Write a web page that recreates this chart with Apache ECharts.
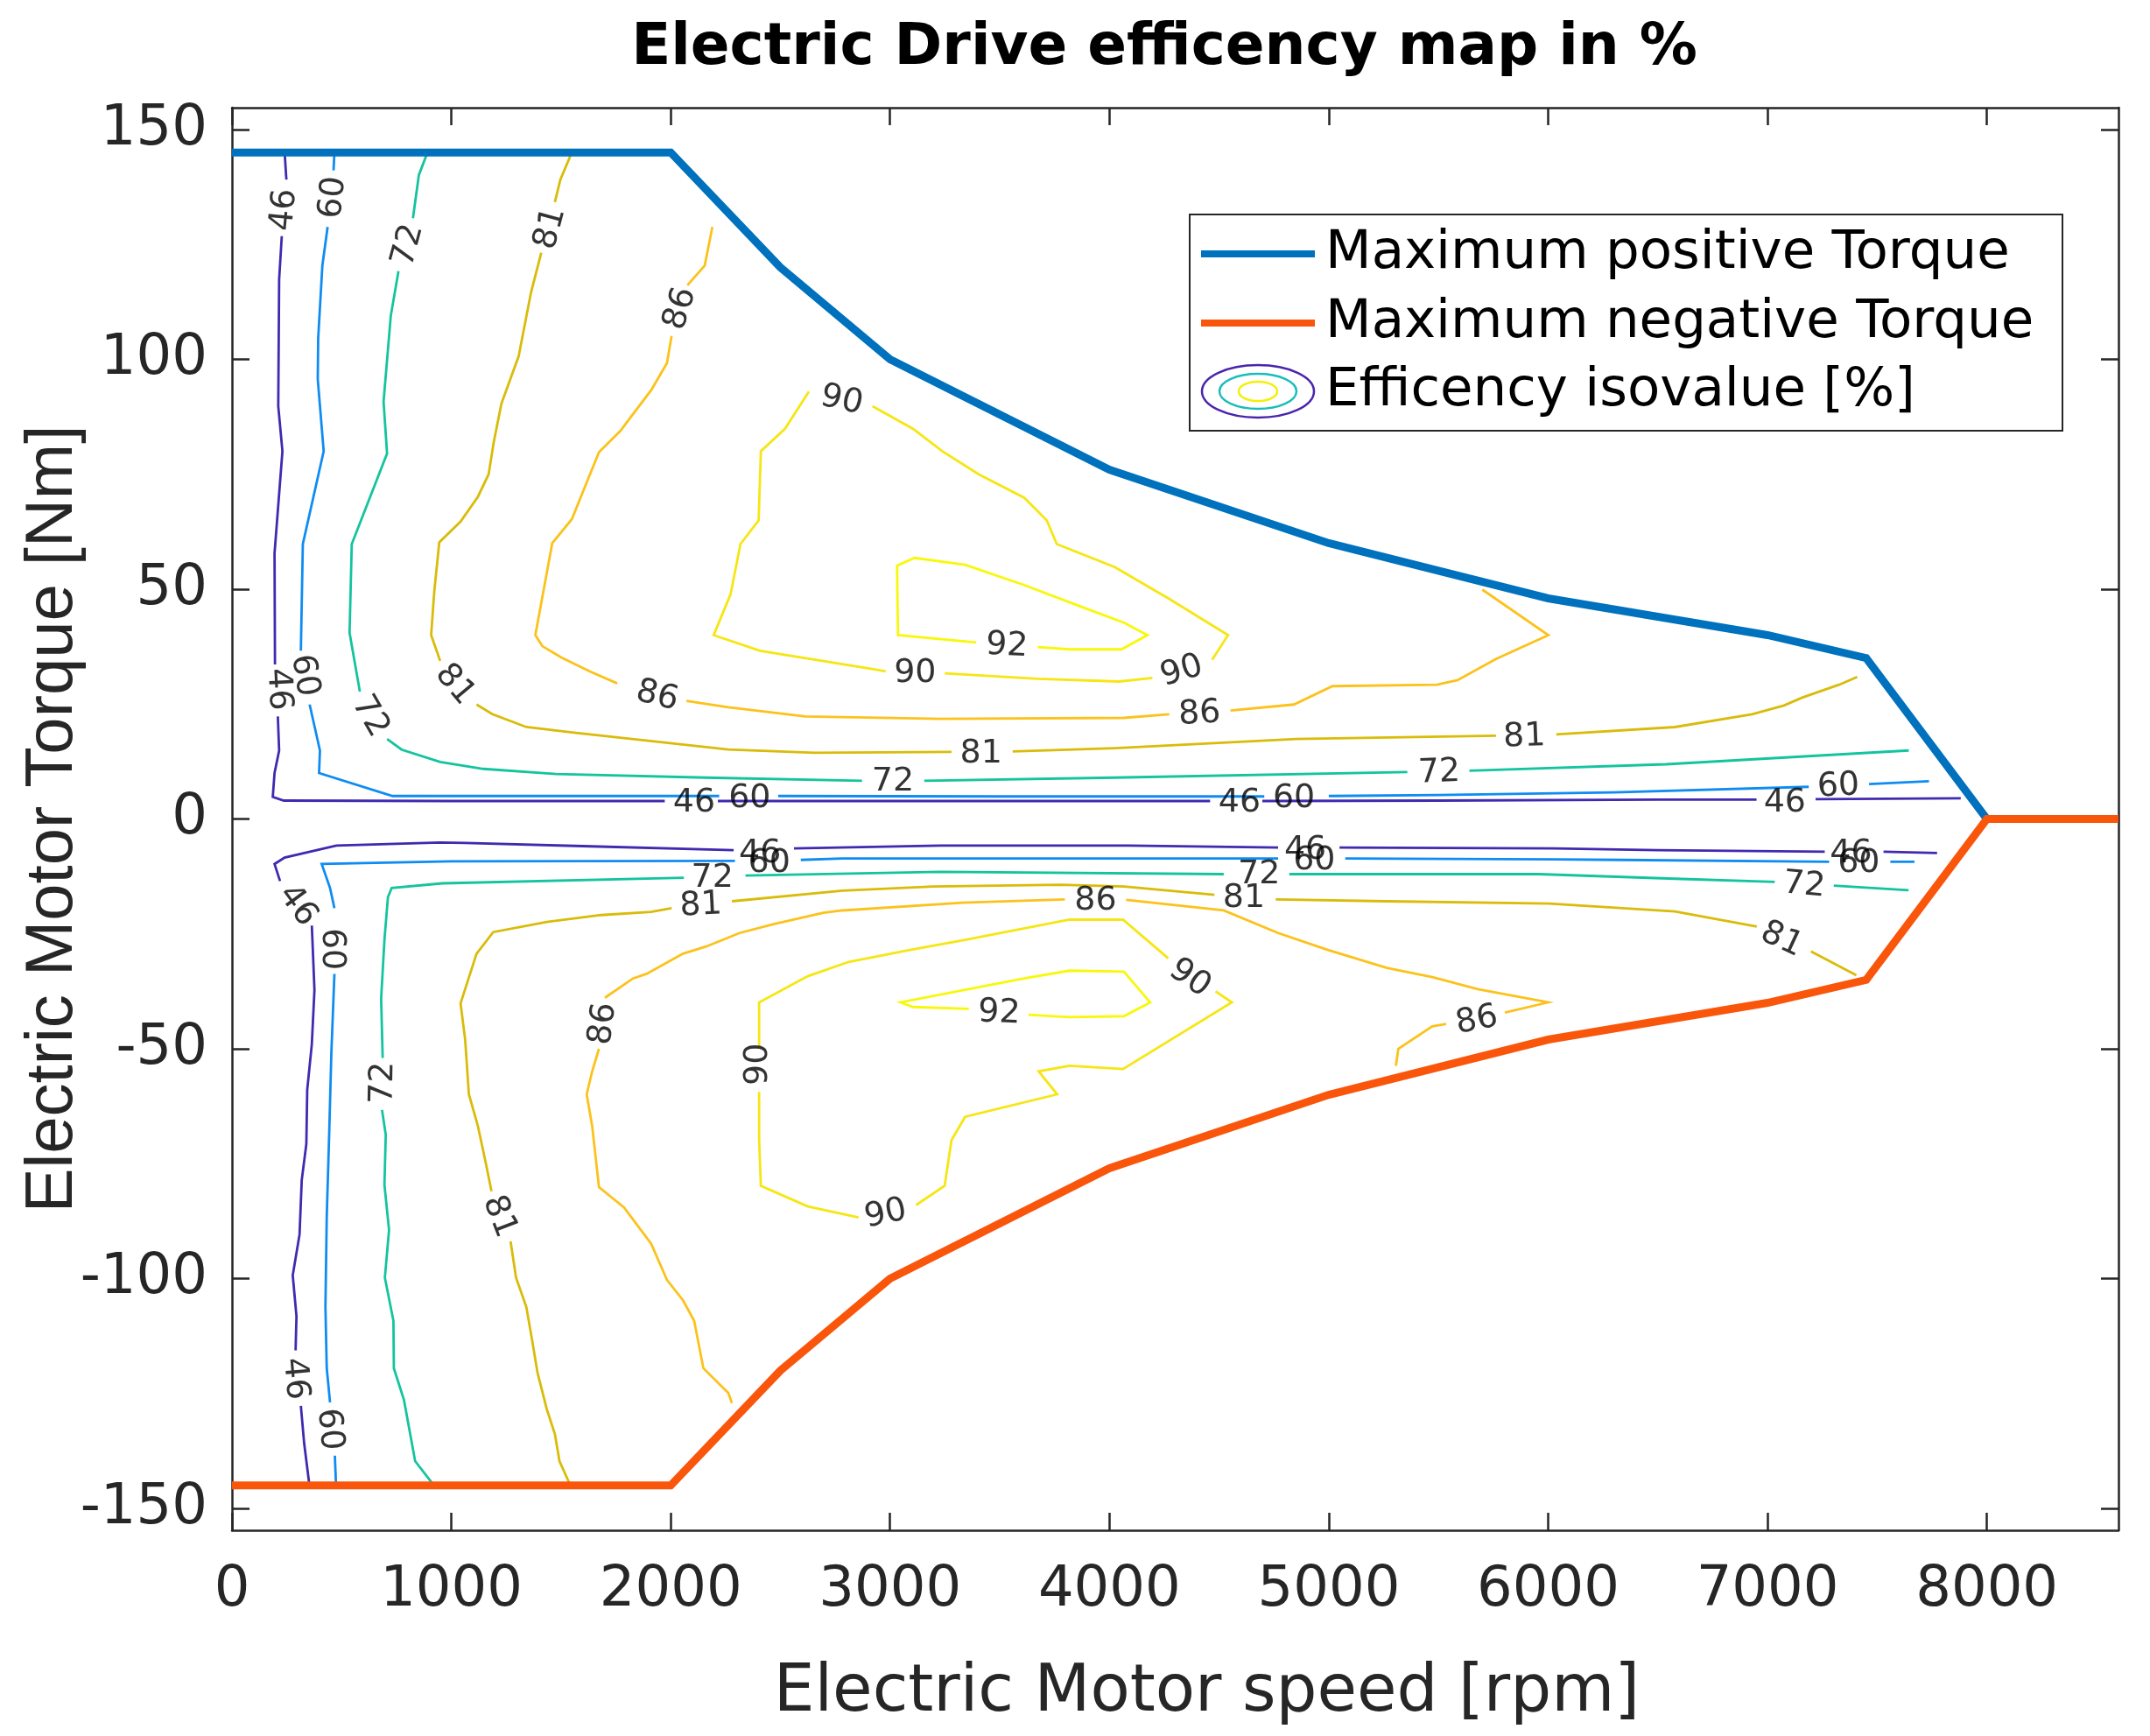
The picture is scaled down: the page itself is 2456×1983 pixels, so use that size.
<!DOCTYPE html>
<html>
<head>
<meta charset="utf-8">
<script src="https://cdn.jsdelivr.net/npm/echarts@6/dist/echarts.min.js"></script>
<style>
html,body{margin:0;padding:0;background:#ffffff;}
#chart{width:2456px;height:1983px;}
</style>
</head>
<body>
<div id="chart"></div>
<script>
// ---------------- data ----------------
const xTicks = [0, 1000, 2000, 3000, 4000, 5000, 6000, 7000, 8000];
const yTicks = [-150, -100, -50, 0, 50, 100, 150];

const maxPositiveTorque = [[0,145],[2000,145],[2500,120],[3000,100],[4000,76],[5000,60],[6000,48],[7000,40],[7450,35],[8000,0]];
const maxNegativeTorque = [[0,-145],[2000,-145],[2500,-120],[3000,-100],[4000,-76],[5000,-60],[6000,-48],[7000,-40],[7450,-35],[8000,0],[8600,0]];

const levels = [46, 60, 72, 81, 86, 90, 92];

// iso-efficiency lines [rpm, Nm]; each inner list is one visible piece (gaps hold labels)
const iso46 = [
  [[240,145.0],[248,139.1]],
  [[227,126.8],[215,117.4],[211,89.8],[230,80.0],[194,57.8],[196,33.6]],
  [[209,22.3],[215,14.9],[194,10.0],[186,4.8],[236,4.0],[1000,3.9],[1973,3.9]],
  [[2215,3.9],[3000,3.9],[4000,3.9],[4459,3.9]],
  [[4697,3.9],[5500,4.0],[6500,4.2],[6950,4.2]],
  [[7219,4.3],[7881,4.5]],
  [[352,-144.6],[329,-135.8],[314,-127.7]],
  [[290,-115.6],[294,-108.2],[277,-99.3],[308,-90.4],[318,-78.6],[339,-70.7],[343,-58.9],[364,-49.0],[376,-37.2],[364,-23.2]],
  [[219,-13.5],[194,-9.8],[240,-8.4],[476,-5.8],[949,-5.1],[1063,-5.2],[1600,-5.9],[2287,-6.8]],
  [[2562,-6.4],[3230,-5.8],[4086,-5.8],[4769,-6.2]],
  [[5049,-6.2],[6026,-6.4],[6500,-6.8],[7261,-7.1]],
  [[7529,-7.1],[7773,-7.4]]
];
const iso60 = [
  [[467,145.0],[463,141.1]],
  [[436,128.8],[412,120.4],[393,104.6],[391,95.7],[418,80.0],[323,59.8],[314,36.6]],
  [[354,24.9],[401,14.9],[397,10.0],[732,5.0],[2221,5.0]],
  [[2490,5.0],[3500,4.9],[4706,4.9]],
  [[5000,5.0],[5503,5.2],[6300,5.8],[7188,7.0]],
  [[7463,7.6],[7736,8.2]],
  [[474,-144.6],[469,-138.5]],
  [[447,-126.9],[432,-119.5],[426,-106.2],[432,-86.5],[443,-68.7],[453,-51.0],[467,-33.7]],
  [[467,-19.4],[447,-15.0],[409,-9.8],[1000,-9.2],[2293,-9.1]],
  [[2593,-8.9],[2783,-8.6],[4769,-8.6]],
  [[5075,-8.6],[6026,-8.8],[6330,-8.9],[7281,-9.3]],
  [[7560,-9.3],[7670,-9.3]]
];
const iso72 = [
  [[891,145.0],[852,140.1],[825,130.7]],
  [[759,119.2],[724,109.5],[691,90.8],[707,79.5],[546,59.8],[536,40.5],[583,27.7]],
  [[707,17.4],[773,15.1],[949,12.4],[1146,10.9],[1477,9.8],[2159,9.0],[2872,8.3]],
  [[3156,8.3],[4024,9.0],[5358,10.2]],
  [[5641,10.5],[6537,11.9],[7644,14.9]],
  [[914,-144.6],[835,-139.7],[784,-126.4],[738,-119.5],[736,-109.2],[697,-99.8],[716,-89.4],[695,-79.6],[701,-68.7],[684,-63.3]],
  [[687,-52.0],[680,-39.1],[695,-26.3],[711,-17.0],[728,-15.0],[960,-14.0],[2060,-12.8]],
  [[2341,-12.3],[3230,-11.5],[4521,-12.0]],
  [[4820,-12.0],[5958,-12.0],[6578,-13.0],[7033,-13.7]],
  [[7302,-14.5],[7643,-15.5]]
];
const iso81 = [
  [[1549,145.0],[1497,139.1],[1472,134.2]],
  [[1410,123.2],[1363,114.5],[1307,100.7],[1228,90.3],[1193,81.9],[1170,75.0],[1121,70.1],[1042,64.7],[945,60.2],[922,49.4],[908,40.0],[949,34.4]],
  [[1115,24.9],[1187,22.8],[1342,20.0],[1559,18.8],[2262,15.1],[2655,14.4],[3280,14.6]],
  [[3559,14.7],[4024,15.4],[4852,17.4],[5762,18.1]],
  [[6037,18.4],[6578,20.0],[6930,22.8],[7075,24.7],[7158,26.4],[7326,29.2],[7409,30.9]],
  [[1539,-144.6],[1493,-139.7],[1472,-133.8],[1435,-128.4],[1393,-120.5],[1369,-113.6],[1342,-106.2],[1295,-99.8],[1270,-91.9]],
  [[1183,-81.0],[1156,-74.6],[1121,-66.8],[1080,-59.9],[1063,-48.0],[1042,-40.1],[1115,-29.3],[1191,-24.6],[1435,-22.4],[1683,-20.9],[1911,-20.2],[2004,-19.4]],
  [[2279,-17.9],[2783,-15.6],[3197,-14.7],[3776,-14.3],[4066,-14.7],[4479,-16.5]],
  [[4758,-17.5],[5265,-17.9],[6004,-18.4],[6578,-20.1],[6951,-23.4]],
  [[7198,-28.8],[7405,-34.0]]
];
const iso86 = [
  [[2190,128.8],[2155,120.4],[2076,116.1]],
  [[2004,105.1],[1983,99.2],[1911,93.3],[1770,84.4],[1673,79.8],[1549,65.2],[1460,60.0],[1383,40.0],[1415,37.6],[1503,35.1],[1632,32.1],[1756,29.5]],
  [[2072,25.7],[2262,24.3],[2614,22.3],[3230,21.8],[4066,22.0],[4273,22.8]],
  [[4552,23.6],[4841,24.9],[5017,28.9],[5493,29.2],[5587,30.2],[5762,34.8],[6001,40.0],[5700,49.9]],
  [[2279,-127.1],[2263,-124.9],[2149,-119.5],[2107,-109.2],[2056,-104.7],[1983,-100.3],[1911,-92.4],[1787,-84.5],[1673,-80.1],[1642,-66.8],[1617,-59.9],[1642,-54.9],[1673,-50.0]],
  [[1700,-38.9],[1828,-34.7],[1890,-33.7],[2056,-29.3],[2159,-27.8],[2314,-24.8],[2469,-22.9],[2696,-20.4],[2783,-19.9],[3331,-18.2],[3797,-17.5]],
  [[4076,-17.6],[4521,-19.9],[4769,-24.8],[4996,-28.5],[5265,-32.4],[5472,-34.4],[5679,-37.0],[6000,-39.9],[5803,-42.1]],
  [[5535,-44.6],[5472,-45.1],[5317,-50.0],[5306,-53.7]]
];
const iso90 = [
  [[2920,89.8],[3104,84.9],[3238,80.0],[3404,75.0],[3611,69.9],[3714,65.0],[3760,59.8],[4024,54.8],[4272,47.9],[4541,40.0],[4468,34.6]],
  [[4196,30.7],[4045,29.9],[3673,30.5],[3249,31.7]],
  [[2980,32.1],[2924,32.6],[2407,36.6],[2196,40.0],[2273,48.9],[2318,59.8],[2401,65.0],[2411,80.0],[2521,84.9],[2630,93.0]],
  [[2403,-49.5],[2403,-39.9],[2625,-34.2],[2811,-31.1],[3090,-28.5],[3342,-26.3],[3818,-21.9],[4062,-21.9],[4268,-30.3]],
  [[4484,-37.5],[4558,-39.9],[4062,-54.4],[3818,-53.7],[3677,-54.9],[3762,-59.9],[3342,-64.8],[3280,-69.9],[3249,-79.8],[3119,-84.0]],
  [[2856,-86.7],[2625,-84.3],[2411,-79.8],[2403,-69.7],[2403,-59.4]]
];
const iso92 = [
  [[3393,38.4],[3036,40.0],[3032,55.1],[3111,56.8],[3342,55.3],[3611,50.9],[3859,46.4],[4066,42.7],[4173,40.0],[4055,36.9],[3818,36.9],[3673,37.4]],
  [[3359,-41.3],[3104,-40.9],[3048,-39.9],[3611,-34.7],[3818,-33.0],[4066,-33.2],[4186,-39.9],[4066,-42.9],[3818,-43.1],[3631,-42.6]]
];

// contour labels: [level, rpm, Nm, angle of the line there]
const isoLabels = [
  [46,240,132.5,85],[60,463,135.2,84],[72,804,124.8,75],[81,1452,128.5,75],[86,2045,111.0,73],[90,2779,91.0,-13],
  [46,211,28.2,-87],[60,329,31.2,-81],[72,629,22.3,-60],[81,1015,29.2,-50],[86,1938,26.7,-14],
  [46,2107,3.5,0],[60,2360,4.5,0],[72,3013,8.0,0],[81,3415,14.1,0],[90,3114,31.7,0],[92,3532,37.6,-3],
  [86,4411,22.8,3],[90,4330,32.1,17],[46,4593,3.5,0],[60,4841,4.5,0],[72,5503,10.0,2],[81,5892,17.8,2],
  [46,7079,3.5,0],[60,7323,7.0,3],
  [46,298,-18.9,-54],[60,453,-28.3,-90],[72,691,-57.4,89],[81,1218,-86.5,-69],[86,1694,-44.6,83],[90,2397,-53.4,90],
  [46,287,-121.8,-85],[60,443,-132.8,-85],[90,2980,-86.0,12],
  [46,2407,-7.6,0],[60,2449,-9.6,0],[72,2190,-12.8,0],[81,2138,-18.9,3],[86,3937,-17.9,0],[92,3497,-42.3,-2],
  [90,4366,-34.7,-35],[46,4893,-6.8,0],[60,4934,-9.1,0],[72,4682,-12.2,0],[81,4613,-17.3,0],[86,5675,-43.9,11],
  [46,7381,-7.6,0],[60,7416,-9.6,0],[72,7167,-14.5,-5],[81,7064,-26.3,-25]
];

// ---------------- styles ----------------
const isoSets = {46: iso46, 60: iso60, 72: iso72, 81: iso81, 86: iso86, 90: iso90, 92: iso92};
const isoColors = {46:'#4129B0', 60:'#0F8CF2', 72:'#14C49E', 81:'#D9BC0A', 86:'#FCC21C', 90:'#F6E614', 92:'#F8F80C'};
const axisColor = '#262626';

const chart = echarts.init(document.getElementById('chart'), null, {renderer: 'canvas'});

const series = [];
levels.forEach(function (lv) {
  series.push({
    type: 'lines',
    name: 'Efficency isovalue [%]',
    coordinateSystem: 'cartesian2d',
    polyline: true,
    silent: true,
    z: 2,
    lineStyle: {color: isoColors[lv], width: 2.8, opacity: 1, curveness: 0},
    data: isoSets[lv].map(function (seg) { return {coords: seg}; })
  });
});
series.push({
  type: 'scatter',
  name: 'labels',
  silent: true,
  z: 5,
  symbolSize: 1,
  itemStyle: {color: 'rgba(0,0,0,0)'},
  label: {show: true, position: 'inside', fontSize: 38, fontFamily: 'DejaVu Sans', color: '#000000'},
  data: isoLabels.map(function (l) {
    return {value: [l[1], l[2]], label: {rotate: l[3], formatter: String(l[0])}};
  })
});
series.push({
  type: 'line', name: 'Maximum positive Torque', data: maxPositiveTorque,
  symbol: 'none', z: 4, silent: true,
  lineStyle: {color: '#0072BD', width: 9, join: 'miter'}
});
series.push({
  type: 'line', name: 'Maximum negative Torque', data: maxNegativeTorque,
  symbol: 'none', z: 4, silent: true,
  lineStyle: {color: '#F9560C', width: 9, join: 'miter'}
});

function boxAxis(dim, pos, withLabels) {
  const ticks = dim === 'x' ? xTicks : yTicks;
  return {
    type: 'value',
    position: pos,
    min: dim === 'x' ? 0 : -154.75,
    max: dim === 'x' ? 8600 : 154.75,
    nameMoveOverlap: false,
    axisLine: {show: true, onZero: false, lineStyle: {color: axisColor, width: 2.5}},
    axisTick: {show: true, inside: true, length: 20, customValues: ticks, lineStyle: {color: axisColor, width: 2.5}},
    axisLabel: withLabels ? {
      show: true, customValues: ticks, fontSize: 64, fontFamily: 'DejaVu Sans', color: axisColor,
      margin: dim === 'x' ? 37 : 28,
      formatter: function (v) { return String(v); }
    } : {show: false},
    splitLine: {show: false}
  };
}

const xBottom = boxAxis('x', 'bottom', true);
xBottom.name = 'Electric Motor speed [rpm]';
xBottom.nameLocation = 'middle';
xBottom.nameGap = 150;
xBottom.nameTextStyle = {fontSize: 74, fontFamily: 'DejaVu Sans', color: axisColor, padding: [0, 0, 0, 72]};
const xTop = boxAxis('x', 'top', false);
const yLeft = boxAxis('y', 'left', true);
yLeft.name = 'Electric Motor Torque [Nm]';
yLeft.nameLocation = 'middle';
yLeft.nameRotate = 90;
yLeft.nameGap = 166;
yLeft.nameTextStyle = {fontSize: 76, fontFamily: 'Liberation Sans', color: axisColor, padding: [0, 0, 0, 0]};
const yRight = boxAxis('y', 'right', false);

const legendFont = {fontSize: 61, fontFamily: 'DejaVu Sans', fill: '#000000'};
function legendText(txt, y) {
  return {type: 'text', x: 1514, y: y, z: 101,
    style: Object.assign({text: txt, align: 'left', verticalAlign: 'middle', textAlign: 'left', textVerticalAlign: 'middle'}, legendFont)};
}

const option = {
  animation: false,
  backgroundColor: '#ffffff',
  grid: {left: 265, right: 36, top: 123, bottom: 235, containLabel: false, outerBoundsMode: 'none'},
  xAxis: [xBottom, xTop],
  yAxis: [yLeft, yRight],
  series: series,
  graphic: [
    {type: 'text', x: 1330, y: 56, z: 100,
      style: {text: 'Electric Drive efficency map in %', fontSize: 66, fontWeight: 'bold', fontFamily: 'DejaVu Sans',
        fill: '#000000', align: 'center', verticalAlign: 'middle', textAlign: 'center', textVerticalAlign: 'middle'}},
    {type: 'rect', z: 100, shape: {x: 1359, y: 245, width: 997, height: 247},
      style: {fill: '#ffffff', stroke: axisColor, lineWidth: 2}},
    {type: 'line', z: 101, shape: {x1: 1372, y1: 290, x2: 1502, y2: 290}, style: {stroke: '#0072BD', lineWidth: 8}},
    {type: 'line', z: 101, shape: {x1: 1372, y1: 369, x2: 1502, y2: 369}, style: {stroke: '#F9560C', lineWidth: 8}},
    {type: 'ellipse', z: 101, shape: {cx: 1437, cy: 447, rx: 64, ry: 30}, style: {fill: 'none', stroke: '#4A25AE', lineWidth: 2.5}},
    {type: 'ellipse', z: 101, shape: {cx: 1437, cy: 447, rx: 44, ry: 20}, style: {fill: 'none', stroke: '#1BBDBB', lineWidth: 2.5}},
    {type: 'ellipse', z: 101, shape: {cx: 1437, cy: 447, rx: 22, ry: 11}, style: {fill: 'none', stroke: '#F3F00A', lineWidth: 2.5}},
    legendText('Maximum positive Torque', 290),
    legendText('Maximum negative Torque', 369),
    legendText('Efficency isovalue [%]', 447)
  ]
};
chart.setOption(option);
</script>
</body>
</html>
